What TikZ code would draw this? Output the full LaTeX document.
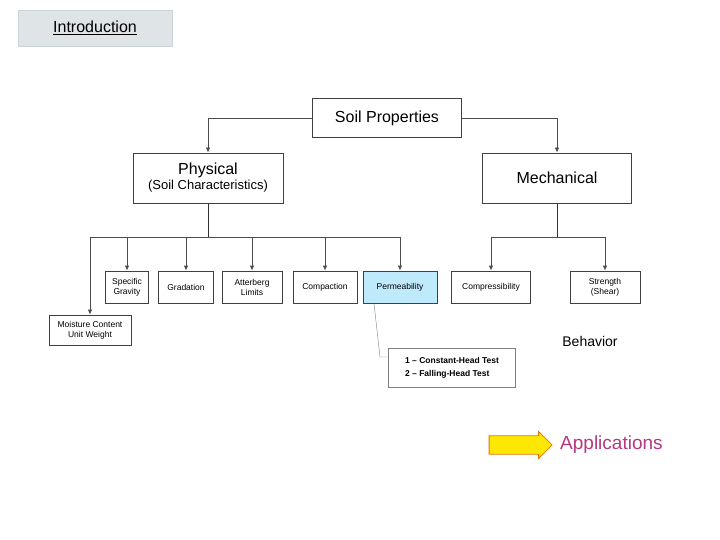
\documentclass[tikz,border=0pt]{standalone}
\usepackage{fontspec}
\setmainfont{Liberation Sans}
\usetikzlibrary{positioning,arrows.meta,shapes.arrows}
\tikzset{box/.style = {draw=black!75, thick, fill=white, align=center, inner sep=2pt},
         link/.style = {draw=black!70, thick, -{Latex[length=5pt,width=4.5pt]}}}
\begin{document}
\begin{tikzpicture}[x=1pt,y=-1pt]
            \useasboundingbox (0,0) rectangle (720,540);
            % Title
            \node[fill=cyan!15!gray!25, draw=cyan!20!gray!40, minimum width=154pt, minimum height=36pt, font=\fontsize{16}{18}\selectfont] (intro) at (95,28) {\underline{Introduction}};
            
            % Top levels
            \node[box, minimum width=149pt, minimum height=39pt, font=\fontsize{16}{18}\selectfont] (soil) at (387,118) {Soil Properties};
            \node[box, minimum width=150pt, minimum height=50pt, font=\fontsize{16}{17}\selectfont] (phys) at (208,178) {Physical\\[-2pt]{\fontsize{13}{15}\selectfont (Soil Characteristics)}};
            \node[box, minimum width=149pt, minimum height=50pt, font=\fontsize{16}{18}\selectfont] (mech) at (557,178) {Mechanical};
            
            % Physical children
            \tikzstyle{small} = [box, minimum height=32pt, font=\fontsize{8.5}{10}\selectfont]
            \node[small, minimum width=43pt] (sg) at (127,287) {Specific\\Gravity};
            \node[small, minimum width=55pt] (grad) at (186,287) {Gradation};
            \node[small, minimum width=60pt] (att) at (252,287) {Atterberg\\Limits};
            \node[small, minimum width=64pt] (comp) at (325,287) {Compaction};
            \node[small, minimum width=74pt, fill=cyan!25] (perm) at (400,287) {Permeability};
            \node[small, minimum width=82pt, minimum height=30pt] (moist) at (90,330) {Moisture Content\\Unit Weight};
            
            % Mechanical children
            \node[small, minimum width=79pt] (cmpr) at (491,287) {Compressibility};
            \node[small, minimum width=70pt] (str) at (605,287) {Strength\\(Shear)};
            
            % Tests
            \node[box, draw=black!50, minimum width=127pt, minimum height=39pt, font=\fontsize{8.5}{10}\selectfont\bfseries, align=left] (tests) at (452,368) {1 -- Constant-Head Test\\[3pt]2 -- Falling-Head Test};
            
            % Connectors
            \draw[link] (soil.west) -| (phys.north);
            \draw[link] (soil.east) -| (mech.north);
            \coordinate (pj) at (208,237);
            \coordinate (mj) at (557,237);
            \draw[thick, black!80] (phys.south) -- (pj);
            \draw[thick, black!80] (mech.south) -- (mj);
            \foreach \n in {sg,grad,att,comp,perm,moist}
                \draw[link] (pj) -| (\n.north);
            \foreach \n in {cmpr,str}
                \draw[link] (mj) -| (\n.north);
            \coordinate (pt) at (380,357);
            \draw[black!50] ([xshift=-26pt]perm.south) -- (pt) -- (tests.west |- pt);
            
            % Labels
            \node[font=\fontsize{14}{16}\selectfont] (beh) at (590,341) {Behavior};
            \node[single arrow, draw=orange!90!black, thick, fill=yellow!90!orange, minimum height=63pt, minimum width=27pt, single arrow head extend=3pt, inner sep=6pt] (arr) at (516,445) {};
            \node[right=4pt of arr, text=magenta!70!black, font=\fontsize{19}{22}\selectfont] (app) {Applications};
        \end{tikzpicture}
\end{document}
